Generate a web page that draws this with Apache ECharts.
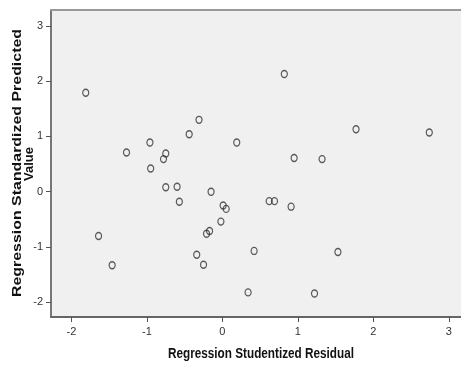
<!DOCTYPE html>
<html>
<head>
<meta charset="utf-8">
<script src="https://cdn.jsdelivr.net/npm/echarts@6/dist/echarts.min.js"></script>
<style>
html,body{margin:0;padding:0;background:#fff;}
#c{width:461px;height:365px;}
</style>
</head>
<body>
<div id="c"></div>
<script>
// Studentized residual (x) and standardized predicted value (y)
var residuals = [-1.81,-1.64,-1.46,-1.27,-0.96,-0.95,-0.78,-0.75,-0.75,-0.60,-0.57,-0.44,-0.31,-0.34,-0.25,-0.21,-0.17,-0.15,-0.02,0.01,0.05,0.19,0.42,0.34,0.82,0.62,0.69,0.91,0.95,1.32,1.53,1.22,1.77,2.74];
var predicted = [1.79,-0.80,-1.33,0.71,0.89,0.42,0.59,0.69,0.08,0.09,-0.18,1.04,1.30,-1.14,-1.32,-0.76,-0.71,0.00,-0.54,-0.25,-0.31,0.89,-1.07,-1.82,2.13,-0.17,-0.17,-0.27,0.61,0.59,-1.09,-1.84,1.13,1.07];
var xTicks = [-2,-1,0,1,2,3];
var yTicks = [-2,-1,0,1,2,3];
var xTitle = 'Regression Studentized Residual';
var yTitle1 = 'Regression Standardized Predicted';
var yTitle2 = 'Value';

var points = residuals.map(function(v,i){ return [v, predicted[i]]; });

function measure(text, font){
  var cv = document.createElement('canvas').getContext('2d');
  cv.font = font;
  return cv.measureText(text).width;
}
var xtFont = 'bold 15px "Liberation Sans Narrow", "Liberation Sans", Arial';
var ytFont = 'bold 13px "Liberation Sans", Arial';
var xScale = 186 / measure(xTitle, xtFont);
var y1Scale = 268 / measure(yTitle1, ytFont);

var chart = echarts.init(document.getElementById('c'), null, {renderer:'canvas'});
var labelStyle = {color:'#333', fontSize:11, fontFamily:'"Liberation Sans Narrow", "Liberation Sans", Arial'};
chart.setOption({
  animation:false,
  backgroundColor:'#ffffff',
  grid:{left:51, top:10, right:0, bottom:48, show:true, backgroundColor:'#f0f0f0', borderWidth:0},
  xAxis:[{
    type:'value', min:-2.27, max:3.16,
    splitLine:{show:false},
    axisLine:{show:true, onZero:false, lineStyle:{color:'#666', width:2}},
    axisTick:{show:true, length:5, customValues:xTicks, lineStyle:{color:'#555', width:1}},
    axisLabel:Object.assign({margin:9, customValues:xTicks}, labelStyle)
  },{
    type:'value', position:'top', min:-2.27, max:3.16,
    splitLine:{show:false},
    axisLine:{show:true, onZero:false, lineStyle:{color:'#999', width:2}},
    axisTick:{show:false},
    axisLabel:{show:false}
  }],
  yAxis:{
    type:'value', min:-2.265, max:3.286,
    splitLine:{show:false},
    axisLine:{show:true, onZero:false, lineStyle:{color:'#777', width:2}},
    axisTick:{show:true, length:5, customValues:yTicks, lineStyle:{color:'#555', width:1}},
    axisLabel:Object.assign({margin:8, customValues:yTicks}, labelStyle)
  },
  series:[{
    type:'scatter',
    xAxisIndex:0,
    data:points,
    symbol:'circle',
    symbolSize:[6,7],
    itemStyle:{color:'rgba(0,0,0,0)', borderColor:'#333', borderWidth:1.3}
  }],
  graphic:[
    {type:'text', x:261, y:354, scaleX:xScale, scaleY:1,
     style:{text:xTitle, font:xtFont, fill:'#111', align:'center', verticalAlign:'middle'}},
    {type:'text', x:17, y:163, rotation:Math.PI/2, scaleX:y1Scale, scaleY:1,
     style:{text:yTitle1, font:ytFont, fill:'#111', align:'center', verticalAlign:'middle'}},
    {type:'text', x:29, y:164, rotation:Math.PI/2,
     style:{text:yTitle2, font:ytFont, fill:'#111', align:'center', verticalAlign:'middle'}}
  ]
});
</script>
</body>
</html>
